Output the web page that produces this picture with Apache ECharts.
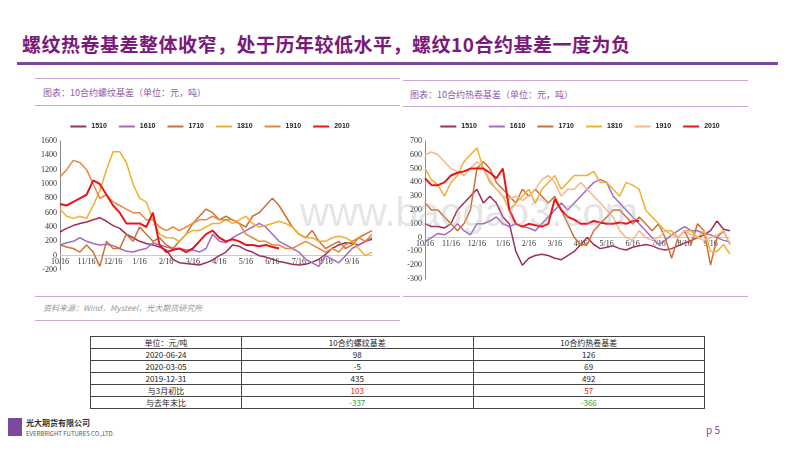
<!DOCTYPE html>
<html><head><meta charset="utf-8">
<script src="https://cdn.jsdelivr.net/npm/echarts@6/dist/echarts.min.js"></script>
<style>
body{margin:0;width:800px;height:450px;position:relative;background:#fff;font-family:"Noto Sans CJK SC",sans-serif;overflow:hidden}
.abs{position:absolute}
.hl{position:absolute;height:1px;background:#c9a6d6}
table{border-collapse:collapse;font-size:8px;color:#222}
td{border:1px solid #444;text-align:center;height:11px;padding:0;line-height:11px}
</style></head><body>
<div class="abs" style="left:22px;top:30px;font-size:19px;font-weight:bold;color:#7a1a7a;letter-spacing:0.5px">螺纹热卷基差整体收窄，处于历年较低水平，螺纹10合约基差一度为负</div>
<div class="abs" style="left:17px;top:62px;width:761px;height:3px;background:#7b4a9c"></div>
<div class="hl" style="left:35px;top:78px;width:365px"></div>
<div class="hl" style="left:35px;top:105px;width:365px"></div>
<div class="hl" style="left:403px;top:80px;width:345px"></div>
<div class="hl" style="left:403px;top:106px;width:345px"></div>
<div class="abs" style="left:43px;top:86px;font-size:9px;color:#8e5aa8">图表：10合约螺纹基差（单位：元，吨）</div>
<div class="abs" style="left:410px;top:88px;font-size:9px;color:#8e5aa8">图表：10合约热卷基差（单位：元，吨）</div>
<div class="hl" style="left:35px;top:296px;width:365px"></div>
<div class="hl" style="left:35px;top:320px;width:365px"></div>
<div class="hl" style="left:403px;top:296px;width:345px"></div>
<div class="abs" style="left:43px;top:302px;font-size:8px;color:#999;font-style:italic">资料来源：Wind，Mysteel，光大期货研究所</div>
<div id="c1" class="abs" style="left:30px;top:110px;width:360px;height:170px"></div>
<div id="c2" class="abs" style="left:400px;top:110px;width:360px;height:180px"></div>
<div class="abs" style="left:300px;top:190px;font-size:40px;color:rgba(180,180,180,0.35);font-family:'Liberation Sans'">www.baogao3.com</div>
<table class="abs" id="tb" style="left:90px;top:336px;width:615px"></table>
<div class="abs" style="left:8px;top:418px;width:14px;height:18px;background:#7b4a9c"></div>
<div class="abs" style="left:26px;top:417px;font-size:8px;font-weight:bold;color:#333">光大期货有限公司</div>
<div class="abs" style="left:26px;top:429px;font-size:6px;color:#555">EVERBRIGHT FUTURES CO.,LTD.</div>
<div class="abs" style="left:706px;top:422px;font-size:10px;color:#7b4a9c">p 5</div>
<script>
const names=['1510','1610','1710','1810','1910','2010'];
const dates=[];const mons=[10,11,12,1,2,3,4,5,6,7,8,9];
mons.forEach(m=>{for(let k=0;k<4;k++)dates.push(k==0?m+'/16':m+'/'+(16+k*7)%30);});
const rebar1510=[330,380,420,450,470,500,530,480,420,380,300,250,200,170,150,120,80,-50,-100,-110,-120,-130,-100,-60,0,50,150,130,80,50,0,-20,-50,-80,-100,-120,-130,-120,-90,-50,20,100,150,180,170,150,200,230];
const rebar1610=[150,180,200,250,200,170,150,160,140,100,60,50,80,100,180,150,120,100,100,80,80,50,100,300,200,180,250,300,350,400,450,400,300,200,150,100,50,-50,-100,-150,0,-50,-100,0,100,150,200,250];
const rebar1710=[150,120,100,50,150,50,-150,200,100,100,300,200,400,300,200,250,150,100,200,300,450,550,650,600,500,550,500,450,400,550,600,700,800,700,550,400,300,250,350,200,100,150,200,100,150,250,300,350];
const rebar1810=[650,550,520,550,520,700,900,1200,1450,1450,1300,1000,800,750,500,300,250,250,200,300,350,350,400,450,450,500,450,500,550,450,400,420,450,480,450,400,300,250,250,200,200,250,270,250,200,100,0,50];
const rebar1910=[1100,1200,1330,1300,1200,1000,800,850,750,700,650,600,600,500,500,400,350,400,350,400,450,500,500,550,500,500,500,450,300,250,200,200,150,150,100,100,150,200,150,100,50,100,50,150,200,250,200,300];
const rebar2010=[720,700,750,800,850,1050,1000,850,700,600,450,450,450,400,600,150,50,80,100,50,100,200,300,350,250,200,230,200,150,150,130,150,120,100];
const hrc1510=[100,80,80,70,100,200,250,300,350,250,300,250,150,100,-100,-200,-150,-130,-120,-130,-150,-160,-130,-100,-50,0,-50,-80,-70,-60,-80,-90,-70,-60,-50,-60,-80,-90,-80,-60,-40,-20,0,20,50,120,60,50];
const hrc1610=[-30,0,30,20,50,100,50,20,100,100,120,150,100,80,100,80,70,50,100,150,200,250,200,250,300,350,400,420,400,300,250,200,150,100,50,0,-50,-20,20,50,80,50,50,30,20,0,-20,-30];
const hrc1710=[250,200,200,150,100,50,100,200,500,550,500,400,350,300,250,350,300,350,300,250,300,200,100,0,-50,-50,50,100,150,200,200,150,100,150,100,50,100,0,-150,0,50,-50,100,50,-200,0,50,-50];
const hrc1810=[500,420,380,300,400,450,550,600,650,500,400,350,300,200,250,300,350,250,350,400,450,350,400,450,450,450,480,400,400,350,300,400,380,350,200,150,100,50,50,0,50,50,0,50,-100,-100,-50,-120];
const hrc1910=[600,620,600,550,500,480,450,500,550,500,420,350,300,280,300,270,300,350,420,450,400,300,350,350,400,350,300,250,200,150,50,0,-20,50,0,-20,0,50,20,0,50,20,0,-20,0,20,50,-50];
const hrc2010=[430,380,380,400,450,470,480,500,500,500,470,430,500,200,100,80,100,90,80,100,280,200,150,130,100,100,120,110,100,100,110,100,120,120];
const tHead=['单位：元/吨','10合约螺纹基差','10合约热卷基差'];
const tRows=['2020-06-24','2020-03-05','2019-12-31','与3月初比','与去年末比'];
const tRebar=[98,-5,435,103,-337];
const tHrc=[126,69,492,57,-366];
let h='<tr>'+tHead.map(x=>'<td>'+x+'</td>').join('')+'</tr>';
tRows.forEach((r,i)=>{const c=i==3?'#e02020':i==4?'#22a040':'#222';
h+=`<tr><td style="width:150px">${r}</td><td style="color:${c}">${tRebar[i]}</td><td style="color:${c}">${tHrc[i]}</td></tr>`;});
document.getElementById('tb').innerHTML=h;
function mk(id,data,cols,ymin,ymax,step,grid,off){
 const c=echarts.init(document.getElementById(id));
 c.setOption({animation:false,
  legend:{top:8,itemWidth:16,itemHeight:2,itemGap:12,icon:'rect',textStyle:{fontSize:7,color:'#222',fontWeight:'bold'},data:names},
  grid:grid,
  xAxis:{type:'category',data:dates,boundaryGap:false,offset:off,axisTick:{show:false},axisLine:{onZero:false,lineStyle:{color:'#ccc'}},
   axisLabel:{interval:3,fontSize:8,fontFamily:'Liberation Serif',color:'#333',margin:2}},
  yAxis:{type:'value',min:ymin,max:ymax,interval:step,splitLine:{show:false},axisLine:{show:true,lineStyle:{color:'#888'}},
   axisLabel:{fontSize:8,fontFamily:'Liberation Serif',color:'#333',margin:3,formatter:v=>String(v)}},
  series:names.map((n,i)=>({name:n,type:'line',data:data[i],symbol:'none',lineStyle:{width:i==5?2:1.5,color:cols[i]},itemStyle:{color:cols[i]},z:i==5?10:2}))
 });
}
mk('c1',[rebar1510,rebar1610,rebar1710,rebar1810,rebar1910,rebar2010],['#9e2f5a','#a569c8','#d0702f','#f0b030','#e8893a','#e8161c'],-200,1600,200,{left:30,right:18,top:31,bottom:10},-14.3);
mk('c2',[hrc1510,hrc1610,hrc1710,hrc1810,hrc1910,hrc2010],['#9e2f5a','#a569c8','#d0702f','#f0b030','#f5b88a','#e8161c'],-300,700,100,{left:25,right:30,top:31,bottom:11},-41.4);
</script></body></html>
